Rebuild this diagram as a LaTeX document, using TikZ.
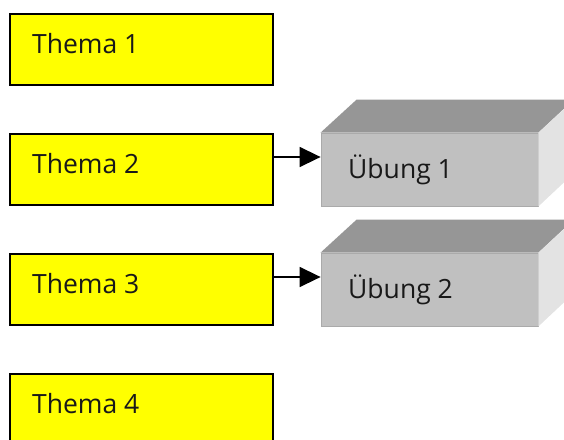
\documentclass[tikz,border=0pt]{standalone}
\usepackage{fontspec}
\setmainfont{Open Sans}
\usetikzlibrary{arrows.meta,calc}
\definecolor{themafill}{HTML}{FFFF00}
\definecolor{frontgray}{HTML}{C0C0C0}
\definecolor{topgray}{HTML}{969696}
\definecolor{sidegray}{HTML}{E3E3E3}
\definecolor{edgegray}{HTML}{AAAAAA}
\tikzset{
  themabox/.style={draw=black, line width=1.5pt, fill=themafill, minimum width=263pt, minimum height=71pt, inner sep=0pt},
  frontbox/.style={fill=frontgray, draw=edgegray, line width=0.8pt, minimum width=217pt, minimum height=73pt, inner sep=0pt},
  lbl/.style={font=\fontsize{26.5}{31}\selectfont, inner sep=0pt, anchor=base west, text=black!90},
  conn/.style={line width=1.5pt, -{Triangle[length=21pt,width=20pt]}}
}
\begin{document}
\begin{tikzpicture}[x=1pt,y=-1pt]
\useasboundingbox (0,0) rectangle (564,439);
\clip (0,0) rectangle (564,439);
% Thema boxes
\node[themabox] (t1) at (141.5,49.5) {};
\node[themabox] (t2) at (141.5,169.5) {};
\node[themabox] (t3) at (141.5,289.5) {};
\node[themabox] (t4) at (141.5,409.5) {};
\node[lbl] (l1) at (32,53) {Thema 1};
\node[lbl] (l2) at (32,173) {Thema 2};
\node[lbl] (l3) at (32,293) {Thema 3};
\node[lbl] (l4) at (32,413) {Thema 4};
% Uebung boxes
\foreach \n/\y in {u1/169.5,u2/289.5}{
  \node[frontbox] (\n) at (429.5,\y) {};
  \fill[topgray] (\n.north west) -- ++(36,-33) -- ++(217,0) -- (\n.north east) -- cycle;
  \fill[sidegray] (\n.north east) -- ++(36,-33) -- ++(0,73) -- (\n.south east) -- cycle;
}
\node[lbl] (m1) at (348,178) {Übung 1};
\node[lbl] (m2) at (348,298) {Übung 2};
% connectors
\draw[conn] ($(t2.east)+(0,-12.5)$) -- ($(u1.west)+(0,-12.5)$);
\draw[conn] ($(t3.east)+(0,-12.5)$) -- ($(u2.west)+(0,-12.5)$);
\end{tikzpicture}
\end{document}
